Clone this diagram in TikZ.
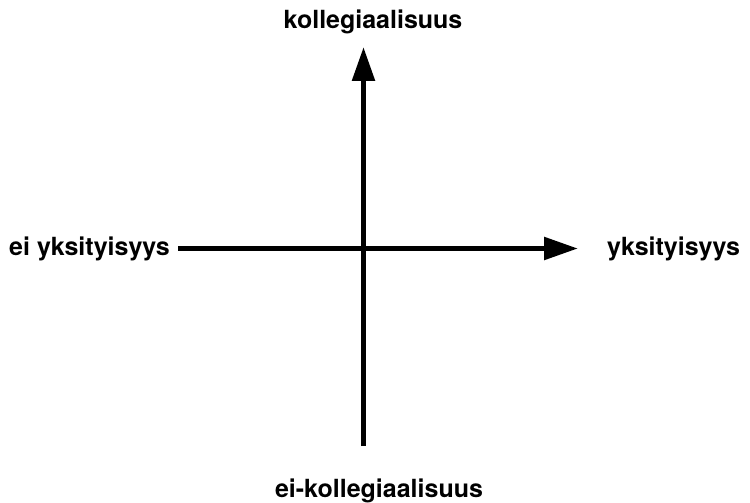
\documentclass[tikz,border=0pt]{standalone}
\usepackage{fontspec}
\setmainfont{TeX Gyre Heros}
\usetikzlibrary{arrows.meta}

\begin{document}
\begin{tikzpicture}[x=1pt, y=-1pt,
        axis/.style={line width=5.5pt, -{Triangle[length=34pt, width=22pt]}},
        label/.style={inner sep=0pt, font=\fontsize{25}{29}\selectfont\bfseries}]

        \useasboundingbox (0, 0) rectangle (750, 503);

        \node[label, anchor=base] (up) at (373, 29) {kollegiaalisuus};
        \node[label, anchor=base] (down) at (379, 497) {ei-kollegiaalisuus};
        \node[label, anchor=base east] (left) at (170, 255) {ei yksityisyys};
        \node[label, anchor=base west] (right) at (607, 255) {yksityisyys};

        \coordinate (s) at (363.5, 446);
        \coordinate (n) at (363.5, 47);
        \coordinate (w) at (178, 248.5);
        \coordinate (e) at (578, 248.5);

        \draw[axis] (s) -- (n);
        \draw[axis] (w) -- (e);
    \end{tikzpicture}
\end{document}
